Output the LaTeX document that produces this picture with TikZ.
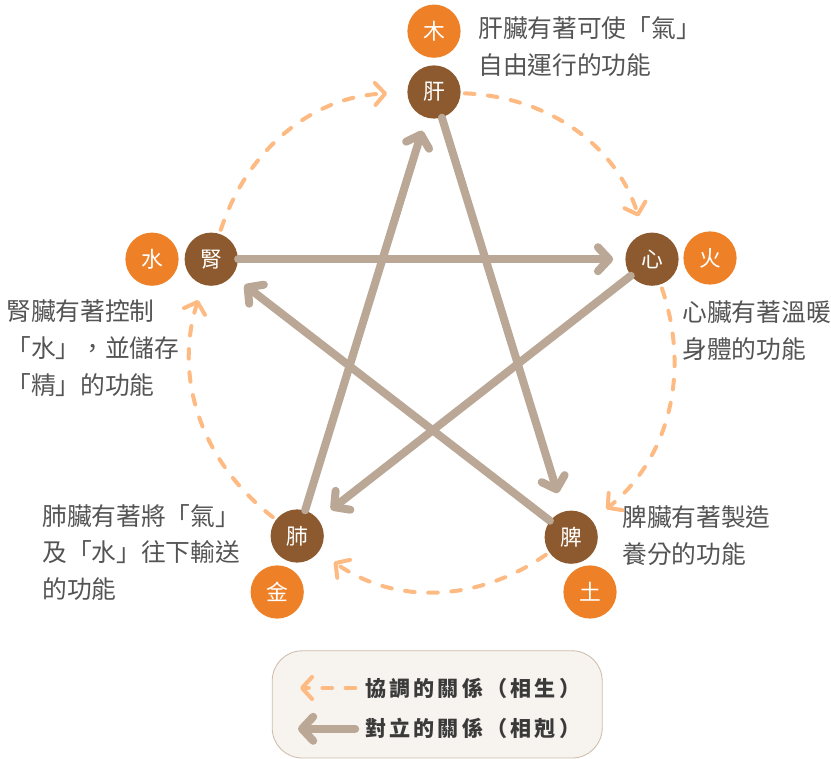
\documentclass[tikz,border=0pt]{standalone}
\usepackage{fontspec}
\setmainfont{Noto Sans CJK TC}
\newfontfamily\legendfont[LetterSpace=15]{Noto Sans CJK TC}
\usetikzlibrary{arrows.meta}

\definecolor{organbrown}{HTML}{8C5A2E}
\definecolor{elemorange}{HTML}{EE8128}
\definecolor{genorange}{HTML}{FDBA82}
\definecolor{ctrltaupe}{HTML}{BBA796}
\definecolor{notegray}{HTML}{545454}
\definecolor{legendgray}{HTML}{3A3A3A}
\definecolor{boxfill}{HTML}{F7F3EE}
\definecolor{boxline}{HTML}{CDBCAC}

\tikzset{
  organ/.style={circle,fill=organbrown,text=white,minimum size=1.33cm,inner sep=0pt,
    font=\fontsize{15.5}{15.5}\selectfont},
  element/.style={organ,fill=elemorange},
  gen/.style={draw=genorange,line width=0.1cm,line cap=round,
    dash pattern=on 0.24cm off 0.34cm,
    -{Straight Barb[length=0.25cm,width=0.55cm,round]}},
  ctrl/.style={draw=ctrltaupe,line width=0.2cm,line cap=round,
    -{Straight Barb[length=0.28cm,width=0.6cm,round]}},
  note/.style={anchor=west,align=left,inner sep=0pt,text=notegray,
    font=\fontsize{17.6}{26.2}\selectfont},
  legendtext/.style={anchor=west,inner sep=0pt,text=legendgray,
    font=\legendfont\bfseries\fontsize{15}{15}\selectfont},
}

\begin{document}
\begin{tikzpicture}
  \useasboundingbox (0,0) rectangle (20.775,-18.975);

  % organs
  \node[organ] (gan)  at (10.85, -2.30) {肝};
  \node[organ] (xin)  at (16.30, -6.48) {心};
  \node[organ] (pi)   at (14.28,-13.43) {脾};
  \node[organ] (fei)  at ( 7.43,-13.40) {肺};
  \node[organ] (shen) at ( 5.28, -6.48) {腎};

  % elements
  \node[element] (mu)   at (10.85, -0.78) {木};
  \node[element] (huo)  at (17.75, -6.45) {火};
  \node[element] (tu)   at (14.75,-14.80) {土};
  \node[element] (jin)  at ( 6.93,-14.80) {金};
  \node[element] (shui) at ( 3.80, -6.48) {水};

  % notes
  \node[note] (gannote)  at (11.95, -1.17) {肝臟有著可使「氣」\\自由運行的功能};
  \node[note] (xinnote)  at (17.05, -8.27) {心臟有著溫暖\\身體的功能};
  \node[note] (pinote)   at (15.55,-13.39) {脾臟有著製造\\養分的功能};
  \node[note] (feinote)  at ( 1.05,-13.81) {肺臟有著將「氣」\\及「水」往下輸送\\的功能};
  \node[note] (shennote) at ( 0.15, -8.71) {腎臟有著控制\\「水」，並儲存\\「精」的功能};

  % generating cycle
  \draw[gen,shorten <=0.1cm,shorten >=0.45cm] (gan)  to[bend left=35] (xin);
  \draw[gen,shorten <=0.1cm,shorten >=0.45cm] (xin)  to[bend left=35] (pi);
  \draw[gen,shorten <=0.1cm,shorten >=0.45cm] (pi)   to[bend left=35] (fei);
  \draw[gen,shorten <=0.1cm,shorten >=0.40cm] (fei)  to[bend left=35] (shen);
  \draw[gen,shorten <=0.1cm,shorten >=0.50cm] (shen) to[bend left=35] (gan);

  % controlling cycle
  \draw[ctrl,shorten >=0.48cm] (gan)  to (pi);
  \draw[ctrl,shorten >=0.38cm] (pi)   to (shen);
  \draw[ctrl,shorten >=0.30cm] (shen) to (xin);
  \draw[ctrl,shorten >=0.40cm] (xin)  to (fei);
  \draw[ctrl,shorten >=0.34cm] (fei)  to (gan);

  % legend
  \node[draw=boxline,line width=0.6pt,fill=boxfill,rounded corners=0.75cm,
    minimum width=8.25cm,minimum height=2.68cm] (legend) at (10.93,-17.61) {};
  \coordinate (gena) at (8.88,-17.20);
  \coordinate (genb) at (7.50,-17.20);
  \coordinate (ctrla) at (8.88,-18.22);
  \coordinate (ctrlb) at (7.45,-18.22);
  \draw[gen] (gena) -- (genb);
  \draw[ctrl] (ctrla) -- (ctrlb);
  \node[legendtext] (gentext)  at (9.12,-17.20) {協調的關係（相生）};
  \node[legendtext] (ctrltext) at (9.12,-18.22) {對立的關係（相剋）};
\end{tikzpicture}
\end{document}
